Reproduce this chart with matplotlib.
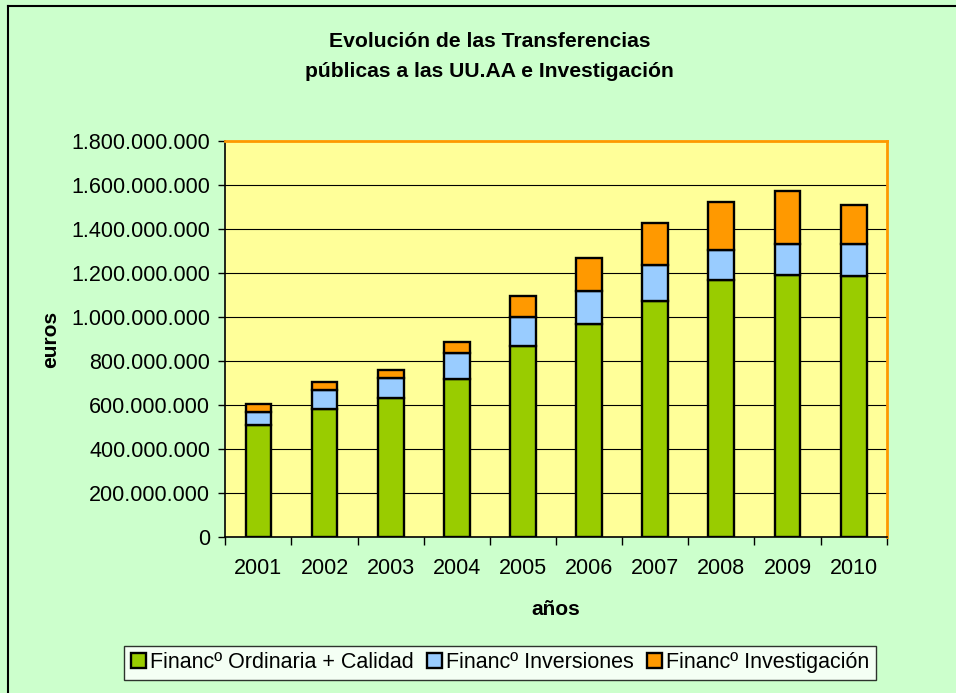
import matplotlib
matplotlib.use("Agg")
import matplotlib.pyplot as plt
from matplotlib.ticker import FuncFormatter, FixedLocator
from matplotlib.lines import Line2D
import numpy as np

plt.rcParams['font.family'] = ['Liberation Sans', 'DejaVu Sans']

years = ["2001", "2002", "2003", "2004", "2005", "2006", "2007", "2008", "2009", "2010"]
# valores (euros)
ordinaria = [509e6, 585e6, 635e6, 720e6, 871e6, 971e6, 1073e6, 1170e6, 1192e6, 1189e6]
inversiones = [59e6, 83e6, 91e6, 118e6, 132e6, 147e6, 166e6, 135e6, 143e6, 146e6]
investigacion = [40e6, 37e6, 36e6, 51e6, 92e6, 152e6, 188e6, 218e6, 241e6, 177e6]
labels = ["Financº Ordinaria + Calidad", "Financº Inversiones", "Financº Investigación"]
colors = ["#99CC00", "#99CCFF", "#FF9900"]

fig = plt.figure(figsize=(9.56, 6.93), dpi=100, facecolor="#CCFFCC")
ax = fig.add_axes([0.2357, 0.2247, 0.6918, 0.5714])
ax.set_facecolor("#FFFF99")

x = np.arange(len(years))
bottom = np.zeros(len(years))
for vals, col, lab in zip([ordinaria, inversiones, investigacion], colors, labels):
    ax.bar(x, vals, width=0.39, bottom=bottom, color=col, edgecolor="black",
           linewidth=1.7, label=lab, zorder=3)
    bottom += np.array(vals)

ax.set_xlim(-0.5, len(years) - 0.5)
ax.set_ylim(0, 1.8e9)
ax.set_yticks(np.arange(0, 1.8e9 + 1, 2e8))
ax.yaxis.set_major_formatter(FuncFormatter(lambda v, p: f"{int(round(v)):,}".replace(",", ".")))
ax.grid(axis="y", color="black", linewidth=0.8, zorder=1)

# ticks entre categorias, estilo Excel
ax.set_xticks(x)
ax.set_xticklabels(years)
ax.tick_params(axis="x", which="major", length=0, labelsize=15.5, pad=15)
ax.xaxis.set_minor_locator(FixedLocator(np.arange(-0.5, len(years), 1.0)))
ax.tick_params(axis="x", which="minor", length=6, width=1, direction="out")
ax.tick_params(axis="y", length=5, width=1, direction="out", labelsize=15.5, pad=6)

for s in ["top", "right"]:
    ax.spines[s].set_color("#FF9900")
    ax.spines[s].set_linewidth(2)
for s in ["left", "bottom"]:
    ax.spines[s].set_color("black")
    ax.spines[s].set_linewidth(1.2)

ax.set_xlabel("años", fontsize=15, fontweight="bold", labelpad=15)
ax.set_ylabel("euros", fontsize=15, fontweight="bold", labelpad=8)

fig.text(0.512, 0.940, "Evolución de las Transferencias", ha="center", va="center",
         fontsize=15.2, fontweight="bold")
fig.text(0.512, 0.897, "públicas a las UU.AA e Investigación", ha="center", va="center",
         fontsize=15.2, fontweight="bold")

leg = fig.legend(loc="center", bbox_to_anchor=(0.523, 0.0435), ncol=3, fontsize=15.5,
                 frameon=True, fancybox=False, edgecolor="black", facecolor="white",
                 handlelength=0.7, handleheight=0.7, handletextpad=0.2,
                 columnspacing=0.6, borderpad=0.3, borderaxespad=0)
leg.get_frame().set_linewidth(1.0)

# borde del grafico (solo se ve arriba e izquierda)
fig.add_artist(Line2D([8 / 956, 8 / 956], [0, 1 - 6 / 693], transform=fig.transFigure,
                      color="black", linewidth=1.5))
fig.add_artist(Line2D([8 / 956, 1], [1 - 6 / 693, 1 - 6 / 693], transform=fig.transFigure,
                      color="black", linewidth=1.5))

fig.savefig("out.png", dpi=100, facecolor=fig.get_facecolor())
